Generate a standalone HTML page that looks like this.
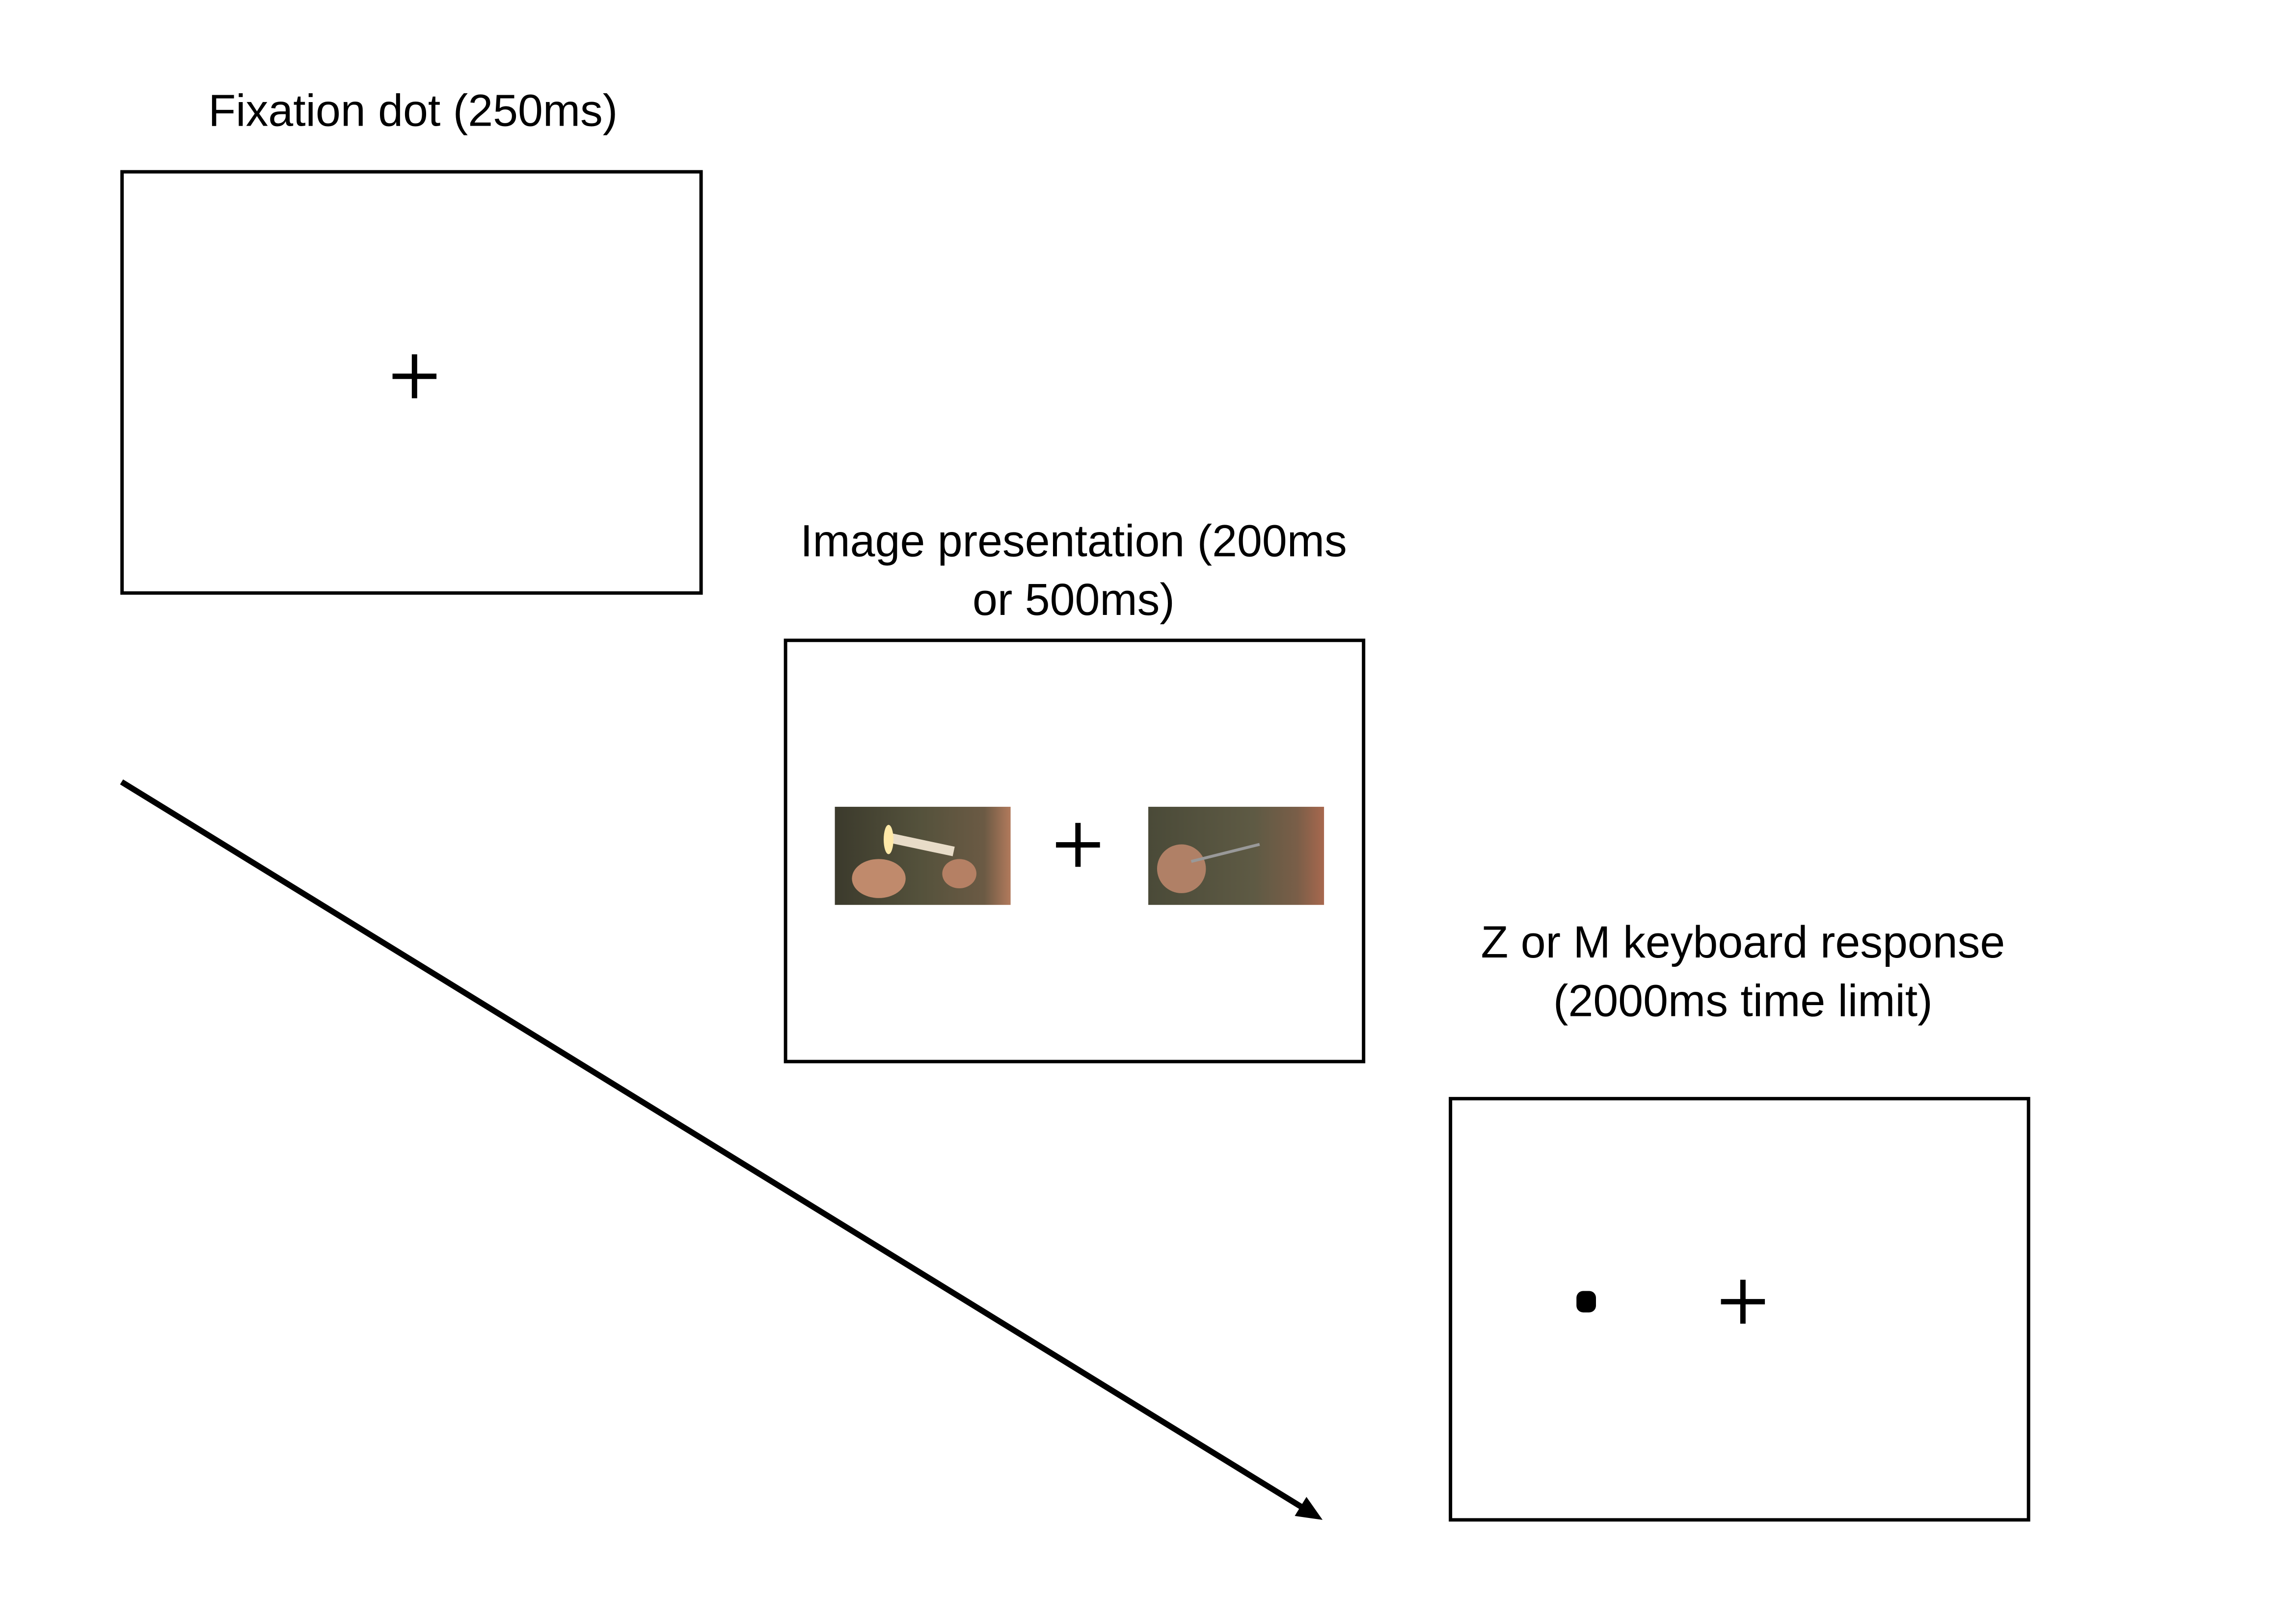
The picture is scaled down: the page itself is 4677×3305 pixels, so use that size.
<!DOCTYPE html>
<html><head><meta charset="utf-8"><style>html,body{margin:0;padding:0;background:#fff}svg{display:block}</style></head>
<body>
<svg width="4677" height="3305" viewBox="0 0 4677 3305" xmlns="http://www.w3.org/2000/svg">
<defs>
<linearGradient id="g1" x1="0" y1="0" x2="1" y2="0">
<stop offset="0" stop-color="#3b3a2c"/><stop offset="0.5" stop-color="#55523c"/><stop offset="0.85" stop-color="#6b5a44"/><stop offset="1" stop-color="#b27a5c"/>
</linearGradient>
<linearGradient id="g2" x1="0" y1="0" x2="1" y2="0">
<stop offset="0" stop-color="#4a4a38"/><stop offset="0.6" stop-color="#5e5a44"/><stop offset="0.85" stop-color="#7a5e48"/><stop offset="1" stop-color="#a8684e"/>
</linearGradient>
</defs>
<g transform="scale(0.9945)">
<g font-family="Liberation Sans, sans-serif" font-size="92" fill="#000" text-anchor="middle">
<text x="846" y="258">Fixation dot (250ms)</text>
<text x="2199" y="1140">Image presentation (200ms</text>
<text x="2199" y="1260">or 500ms)</text>
<text x="3570" y="1962">Z or M keyboard response</text>
<text x="3570" y="2082">(2000ms time limit)</text>
</g>
<g fill="none" stroke="#000" stroke-width="7">
<rect x="250" y="352" width="1186" height="863"/>
<rect x="1609" y="1312" width="1184" height="863"/>
<rect x="2971" y="2251" width="1184" height="863"/>
</g>
<g stroke="#000" stroke-width="11">
<line x1="804" y1="771" x2="894" y2="771"/><line x1="849" y1="726" x2="849" y2="816"/>
<line x1="2163" y1="1731" x2="2253" y2="1731"/><line x1="2208" y1="1686" x2="2208" y2="1776"/>
<line x1="3525" y1="2667" x2="3615" y2="2667"/><line x1="3570" y1="2622" x2="3570" y2="2712"/>
</g>
<rect x="3229" y="2645" width="40" height="44" rx="14" fill="#000"/>
<rect x="1710" y="1653" width="360" height="201" fill="url(#g1)"/>
<rect x="1815" y="1720" width="140" height="20" fill="#e8dcc8" transform="rotate(12 1885 1730)"/>
<ellipse cx="1820" cy="1720" rx="10" ry="30" fill="#ffe9a8"/>
<ellipse cx="1800" cy="1800" rx="55" ry="40" fill="#c08a6c"/>
<ellipse cx="1965" cy="1790" rx="35" ry="30" fill="#b58064"/>
<rect x="2352" y="1653" width="360" height="201" fill="url(#g2)"/>
<ellipse cx="2420" cy="1780" rx="50" ry="50" fill="#b08066"/>
<line x1="2440" y1="1765" x2="2580" y2="1730" stroke="#999" stroke-width="6"/>
<line x1="249" y1="1602" x2="2665" y2="3087" stroke="#000" stroke-width="12"/>
<polygon points="2709,3114 2652,3106 2676,3067" fill="#000"/>
</g>
</svg>
</body></html>
